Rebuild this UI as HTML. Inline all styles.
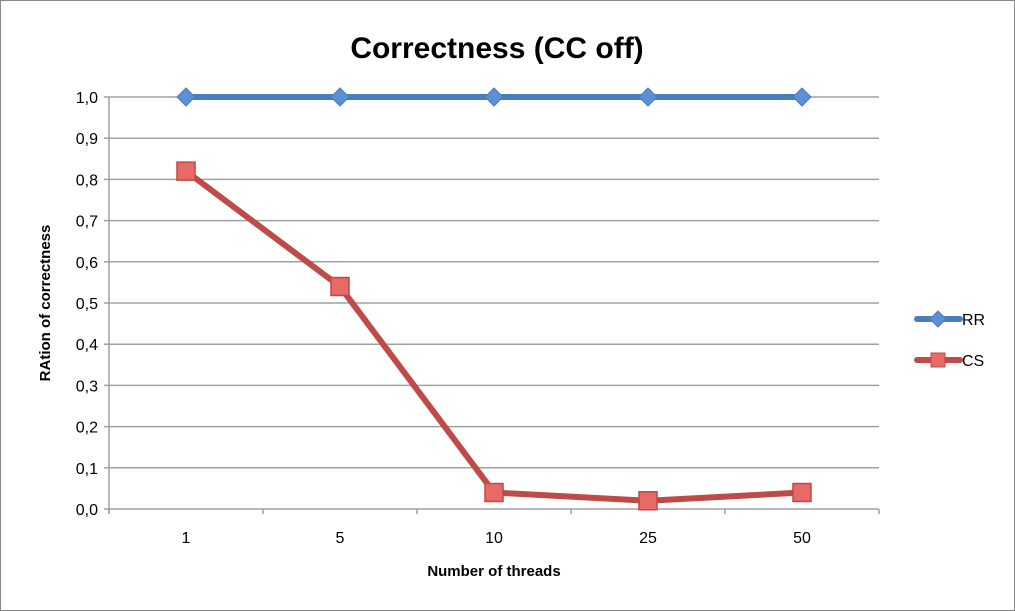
<!DOCTYPE html>
<html><head><meta charset="utf-8"><style>
html,body{margin:0;padding:0;background:#fff}
svg{display:block;font-family:"Liberation Sans",Arial,sans-serif}
</style></head><body>
<svg id="chart" width="1015" height="611">
<rect x="0.5" y="0.5" width="1014" height="610" fill="#fff" stroke="#888"/>
<text x="497" y="58" font-size="30" font-weight="bold" text-anchor="middle">Correctness (CC off)</text>
<text transform="translate(50,303) rotate(-90)" font-size="15" font-weight="bold" text-anchor="middle">RAtion of correctness</text>
<text x="494" y="576" font-size="15" font-weight="bold" text-anchor="middle">Number of threads</text>
<g id="grid"></g><g id="axes"></g><g id="series"></g>
<g>
<g>
<line x1="917" y1="319" x2="960" y2="319" stroke="#4a7ebb" stroke-width="6" stroke-linecap="round"/>
<polygon points="938,311 946,319 938,327 930,319" fill="#5b8fd6" stroke="#4a7ebb"/>
<text x="962" y="325" font-size="16">RR</text></g>
<g>
<line x1="917" y1="360" x2="960" y2="360" stroke="#be4b48" stroke-width="6" stroke-linecap="round"/>
<rect x="931" y="353" width="14" height="14" fill="#e66a66" stroke="#be4b48"/>
<text x="962" y="366" font-size="16">CS</text></g>
</g>
</svg>
<script>
const categories=["1","5","10","25","50"];
const rrValues=[1,1,1,1,1];
const csValues=[0.82,0.54,0.04,0.02,0.04];
const yTicks=[0,0.1,0.2,0.3,0.4,0.5,0.6,0.7,0.8,0.9,1.0];
const yTickLabels=["0,0","0,1","0,2","0,3","0,4","0,5","0,6","0,7","0,8","0,9","1,0"];
const NS="http://www.w3.org/2000/svg";
const L=109,R=879,T=97,B=509;
const band=(R-L)/categories.length;
const x=i=>L+band*(i+0.5);
const y=v=>B-(v/1.0)*(B-T);
function mk(tag,attrs,parent){const e=document.createElementNS(NS,tag);for(const k in attrs)e.setAttribute(k,attrs[k]);parent.appendChild(e);return e;}
const grid=document.getElementById('grid'),axes=document.getElementById('axes'),series=document.getElementById('series');
yTicks.forEach((t,i)=>{
 if(t>0){const g=mk('line',{x1:L,x2:R,y1:y(t),y2:y(t),stroke:'#a0a0a0','stroke-width':1.5},grid);
 
 }
 mk('line',{x1:L-5,x2:L,y1:y(t),y2:y(t),stroke:'#a0a0a0','stroke-width':1.5},axes);
 const tx=mk('text',{x:L-11,y:y(t)+6,'font-size':16,'text-anchor':'end'},axes);
 tx.textContent=yTickLabels[i];
 
 
});
mk('line',{x1:L,x2:L,y1:T,y2:B+5,stroke:'#a0a0a0','stroke-width':1.5},axes);
mk('line',{x1:L,x2:R,y1:B,y2:B,stroke:'#a0a0a0','stroke-width':1.5},axes);
for(let i=0;i<=categories.length;i++){mk('line',{x1:L+band*i,x2:L+band*i,y1:B,y2:B+5,stroke:'#a0a0a0','stroke-width':1.5},axes);}
categories.forEach((c,i)=>{const tx=mk('text',{x:x(i),y:B+34,'font-size':16,'text-anchor':'middle'},axes);
 tx.textContent=c;
 
 });
function drawLine(vals,color,name){
 const p=mk('polyline',{points:vals.map((v,i)=>x(i)+','+y(v)).join(' '),fill:'none',stroke:color,'stroke-width':6,'stroke-linejoin':'round'},series);
 
 
}
drawLine(rrValues,'#4a7ebb','rr');
drawLine(csValues,'#be4b48','cs');
rrValues.forEach((v,i)=>{const cx=x(i),cy=y(v);
 const m=mk('polygon',{points:`${cx},${cy-9} ${cx+9},${cy} ${cx},${cy+9} ${cx-9},${cy}`,fill:'#5b8fd6',stroke:'#4a7ebb','stroke-width':1},series);
 
 });
csValues.forEach((v,i)=>{const cx=x(i),cy=y(v);
 const m=mk('rect',{x:cx-9,y:cy-9,width:18,height:18,fill:'#e66a66',stroke:'#be4b48','stroke-width':1.5},series);
 
 });
</script>
</body></html>
